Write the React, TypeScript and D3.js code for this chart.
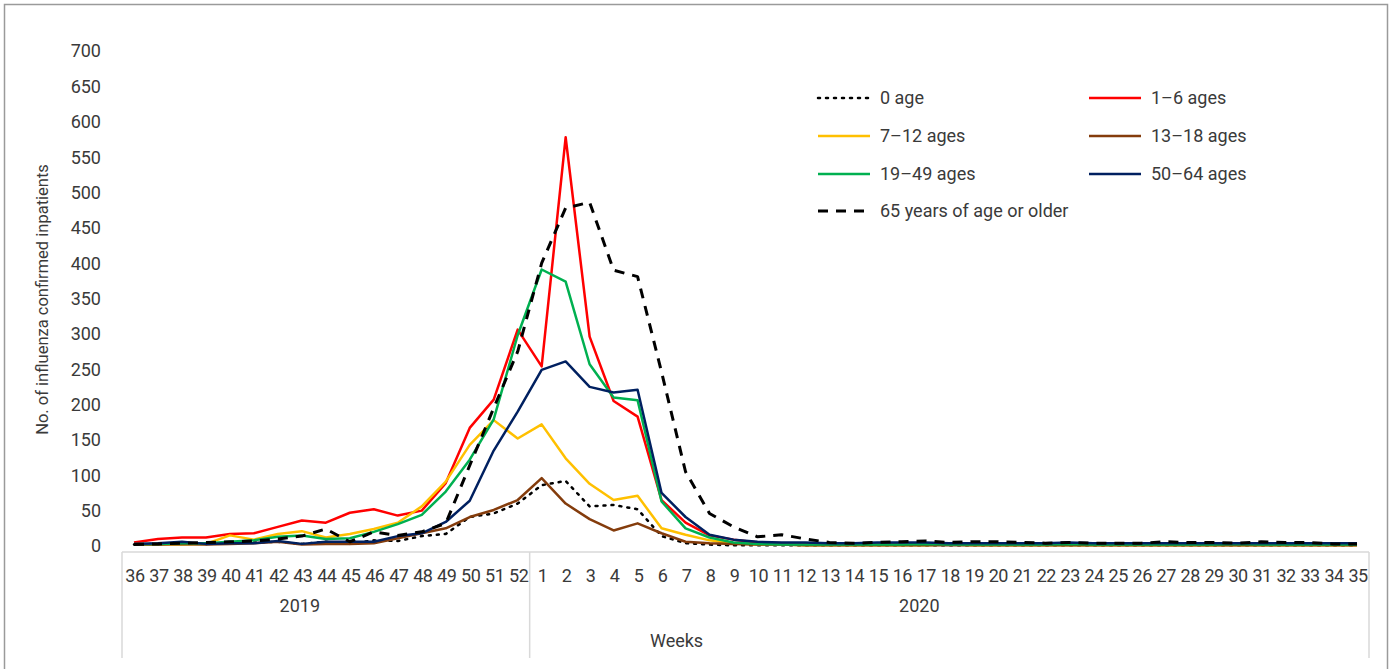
import React from "react";
import * as d3 from "d3";

// week labels (2019 season start -> 2020)
const weeks2019 = ["36", "37", "38", "39", "40", "41", "42", "43", "44", "45", "46", "47", "48", "49", "50", "51", "52"];
const weeks2020 = ["1", "2", "3", "4", "5", "6", "7", "8", "9", "10", "11", "12", "13", "14", "15", "16", "17", "18",
  "19", "20", "21", "22", "23", "24", "25", "26", "27", "28", "29", "30", "31", "32", "33", "34", "35"];
const weeks = [...weeks2019, ...weeks2020];

const yTicks = [0, 50, 100, 150, 200, 250, 300, 350, 400, 450, 500, 550, 600, 650, 700];

const age0 = [2, 3, 4, 3, 4, 5, 6, 3, 6, 3, 8, 7, 14, 17, 41, 46, 60,
  86, 92, 56, 58, 52, 14, 4, 2, 1, 1, 1, 1, 1, 1, 1, 1, 1, 1, 1, 1, 1, 1, 1, 1, 1, 1, 1, 1, 1, 1, 1, 1, 1, 1, 1];
const age1to6 = [5, 10, 12, 12, 17, 18, 27, 36, 33, 47, 52, 43, 50, 89, 167, 207, 306,
  254, 578, 296, 205, 183, 65, 33, 15, 9, 5, 4, 4, 3, 3, 3, 3, 3, 2, 2, 3, 2, 2, 3, 2, 2, 3, 2, 2, 2, 2, 2, 2, 2, 2, 2];
const age7to12 = [2, 2, 2, 3, 15, 9, 17, 21, 12, 17, 24, 33, 56, 91, 143, 178, 152,
  172, 124, 88, 65, 71, 25, 16, 8, 4, 2, 2, 1, 1, 1, 1, 1, 1, 2, 1, 1, 1, 1, 1, 1, 1, 1, 1, 1, 1, 1, 1, 1, 1, 1, 1];
const age13to18 = [2, 2, 3, 2, 3, 4, 6, 2, 3, 3, 4, 11, 18, 25, 41, 51, 65,
  96, 60, 38, 22, 32, 18, 6, 4, 3, 2, 2, 1, 1, 1, 1, 1, 1, 1, 1, 1, 1, 1, 1, 1, 1, 1, 1, 1, 1, 1, 1, 1, 1, 1, 1];
const age19to49 = [3, 3, 4, 4, 6, 8, 13, 15, 10, 11, 20, 31, 44, 77, 122, 179, 298,
  391, 374, 257, 210, 206, 63, 25, 12, 5, 3, 2, 2, 2, 2, 2, 2, 3, 2, 2, 2, 2, 2, 3, 2, 2, 2, 2, 2, 2, 3, 2, 2, 2, 2, 2];
const age50to64 = [3, 4, 6, 3, 4, 4, 7, 3, 6, 6, 6, 14, 18, 34, 64, 135, 190,
  249, 261, 225, 217, 221, 75, 41, 16, 9, 6, 5, 5, 4, 4, 5, 5, 5, 4, 4, 4, 4, 4, 5, 4, 4, 4, 4, 4, 4, 4, 4, 4, 4, 4, 4];
const age65plus = [2, 3, 4, 5, 6, 7, 10, 14, 24, 6, 20, 15, 20, 32, 114, 195, 275,
  400, 478, 486, 390, 381, 246, 105, 46, 27, 13, 16, 10, 5, 4, 5, 6, 7, 5, 6, 6, 5, 4, 5, 4, 4, 4, 6, 5, 5, 4, 6, 5, 5, 3, 3];

const series = [
  { name: "0 age", values: age0, color: "#000000", dash: "2 6", width: 2.5, cap: "round" },
  { name: "1\u20136 ages", values: age1to6, color: "#ff0000", dash: null, width: 2.5, cap: "butt" },
  { name: "7\u201312 ages", values: age7to12, color: "#ffc000", dash: null, width: 2.5, cap: "butt" },
  { name: "13\u201318 ages", values: age13to18, color: "#843c0c", dash: null, width: 2.5, cap: "butt" },
  { name: "19\u201349 ages", values: age19to49, color: "#00b050", dash: null, width: 2.5, cap: "butt" },
  { name: "50\u201364 ages", values: age50to64, color: "#002060", dash: null, width: 2.5, cap: "butt" },
  { name: "65 years of age or older", values: age65plus, color: "#000000", dash: "10 8", width: 3, cap: "butt" },
];

const W = 1396;
const H = 669;
const font = "Roboto, 'Liberation Sans', Arial, sans-serif";
const textColor = "#3a3a3a";

export default function App() {
  const x = d3.scaleBand().domain(weeks).range([122, 1369]).padding(0);
  const cx = (w: string) => (x(w) as number) + x.bandwidth() / 2;
  const y = d3.scaleLinear().domain([0, 700]).range([546, 51]);
  const axisY = 552;

  const line = d3
    .line<number>()
    .x((_, i) => cx(weeks[i]))
    .y((v) => y(v));

  const dividers = [x(weeks2019[0]) as number, x(weeks2020[0]) as number, x.range()[1]];

  // legend layout: two columns, four rows
  const legendCols = [818, 1089];
  const legendRows = [98, 136, 174, 211];

  return (
    <svg
      width={W}
      height={H}
      style={{ position: "absolute", left: 0, top: 0, display: "block", background: "#fff" }}
      fontFamily={font}
    >
      <rect x={4.5} y={4.5} width={1383} height={720} fill="none" stroke="#9a9a9a" strokeWidth={1.5} />

      {/* y axis ticks */}
      {yTicks.map((t) => (
        <text key={t} x={101} y={y(t)} dy="0.36em" textAnchor="end" fontSize={18} fill={textColor}>
          {t}
        </text>
      ))}
      <text
        transform={`translate(48,${(y(0) + y(700)) / 2 + 1}) rotate(-90)`}
        textAnchor="middle"
        fontSize={16.5}
        fill={textColor}
      >
        No. of influenza confirmed inpatients
      </text>

      {/* category axis */}
      <line x1={x.range()[0]} x2={x.range()[1]} y1={axisY} y2={axisY} stroke="#d9d9d9" strokeWidth={1.5} />
      {dividers.map((d, i) => (
        <line key={i} x1={d} x2={d} y1={axisY} y2={658} stroke="#d9d9d9" strokeWidth={1.5} />
      ))}
      {weeks.map((w) => (
        <text key={w} x={cx(w) + 1} y={582} textAnchor="middle" fontSize={18} letterSpacing={-0.5} fill={textColor}>
          {w}
        </text>
      ))}
      <text x={cx("43") - 2} y={612} textAnchor="middle" fontSize={18} fill={textColor}>
        2019
      </text>
      <text x={cx("17") - 6} y={612} textAnchor="middle" fontSize={18} fill={textColor}>
        2020
      </text>
      <text x={cx("6") + 15} y={647} textAnchor="middle" fontSize={18} fill={textColor}>
        Weeks
      </text>

      {/* series */}
      {series.map((s) => (
        <path
          key={s.name}
          d={line(s.values) || ""}
          fill="none"
          stroke={s.color}
          strokeWidth={s.width}
          strokeDasharray={s.dash || undefined}
          strokeLinecap={s.cap as any}
          strokeLinejoin="round"
        />
      ))}

      {/* legend */}
      {series.map((s, i) => {
        const lx = legendCols[i % 2];
        const ly = legendRows[Math.floor(i / 2)];
        return (
          <g key={s.name}>
            <line
              x1={lx}
              x2={lx + 52}
              y1={ly}
              y2={ly}
              stroke={s.color}
              strokeWidth={s.width}
              strokeDasharray={s.dash || undefined}
              strokeLinecap={s.cap as any}
            />
            <text x={lx + 62} y={ly} dy="0.36em" fontSize={18} fill={textColor}>
              {s.name}
            </text>
          </g>
        );
      })}
    </svg>
  );
}
